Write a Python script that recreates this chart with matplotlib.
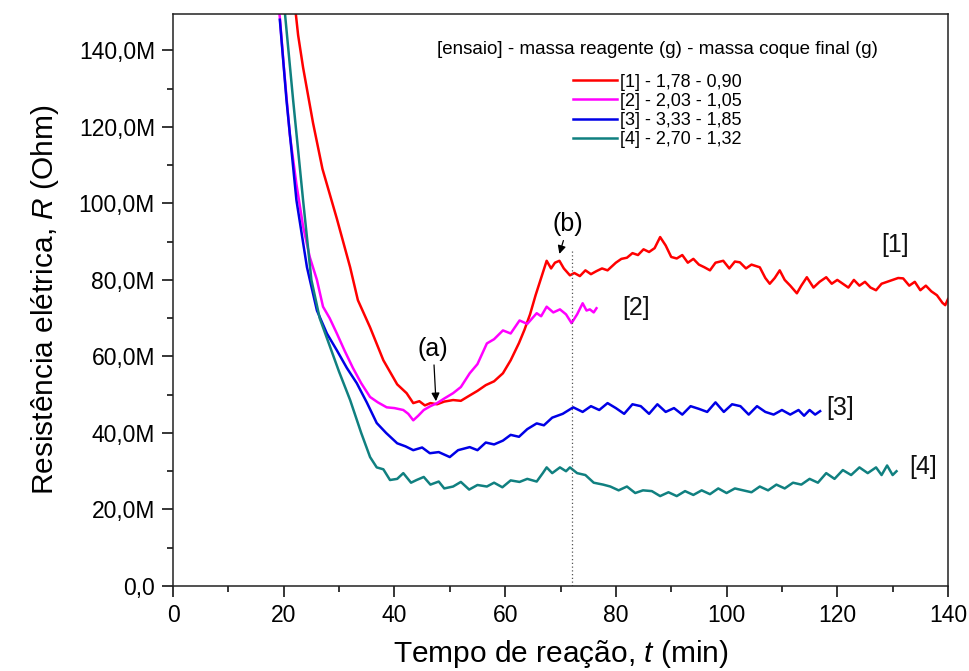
import matplotlib
matplotlib.use("Agg")
import matplotlib.pyplot as plt

# values, R in megaohm
t1 = [22, 22.6, 23.5, 25.3, 27, 29.6, 32, 33.4, 35.6, 38, 40.5, 42.2, 43.4, 44.5, 45.5, 46.5,
      47.7, 49, 50.6, 52, 53.6, 55, 56.5, 58, 59.6, 61, 62.5, 63.5, 64.5, 65.5, 66.5, 67.5,
      68.3, 69, 69.8, 70.6, 71.7, 72.5, 73.5, 74.5, 75.5, 76.5, 77.5, 78.5, 80, 81, 82, 83,
      84, 85, 86, 87, 88, 89, 90, 91, 92, 93, 94, 95, 96, 97, 98, 99.4, 100.5, 101.5, 102.4,
      103.5, 104.5, 106, 107, 107.8, 108.7, 109.6, 110.5, 111.5, 112.7, 113.5, 114.5, 115.7,
      116.8, 118, 119, 120, 121, 122, 123, 124, 125, 126, 127, 128, 129, 130, 131, 131.9,
      133, 134, 135, 136, 137, 138, 139, 139.5, 140]
r1 = [152, 144, 135.5, 121, 109, 96, 83.3, 74.7, 67.6, 59, 52.7, 50.4, 47.8, 48.3, 47.2, 47.8,
      47.5, 48.2, 48.6, 48.4, 49.8, 51, 52.5, 53.5, 55.6, 59, 63.5, 67, 71, 76, 80.5, 85,
      83, 84.5, 85, 83, 81.2, 81.8, 81, 82.5, 81.5, 82.3, 83, 82.5, 84.5, 85.5, 85.8, 87,
      86.5, 88, 87.3, 88.3, 91.2, 89, 86, 85.6, 86.5, 84.5, 85.5, 84, 83.3, 82.5, 84.5, 85,
      83, 84.8, 84.6, 83, 84, 83.3, 80.5, 79, 80.5, 82.5, 80, 78.5, 76.5, 78.5, 80.7, 78,
      79.5, 80.7, 79, 80, 79, 78, 80, 78.5, 79.5, 78, 77.3, 79, 79.5, 80, 80.5, 80.4,
      78.5, 79.5, 77.3, 78.5, 77, 76, 74, 73.4, 75]

t2 = [19, 19.3, 20, 21.1, 22.3, 23.5, 24.7, 26, 27.1, 28.3, 29.6, 31, 32.5, 34, 35.6, 37,
      38.6, 40, 41.6, 42.5, 43.4, 44.3, 45.3, 46.5, 47.7, 49, 50.6, 52, 53.6, 55, 56.7, 58,
      59.6, 61, 62.6, 64, 65.7, 66.5, 67.5, 68.7, 69.9, 71, 72, 73, 74, 74.7, 75.3, 76, 76.5]
r2 = [152, 148.6, 136, 118, 105, 94, 86, 80, 73, 70, 66, 61.5, 57, 53, 49.4, 48,
      46.7, 46.5, 46, 45, 43.3, 44.5, 46, 47, 47.8, 49, 50.4, 52, 55.6, 58, 63.4, 64.5,
      66.8, 66, 69.4, 68.5, 71.3, 70.5, 73, 71.5, 72.3, 71, 68.7, 71, 73.9, 72, 72.3, 71.5, 72.6]

t3 = [19.3, 20.5, 22.3, 24.2, 26, 27.8, 29.6, 31.4, 33.2, 35, 36.8, 38.5, 40.5, 42, 43.4, 45,
      46.4, 48, 50, 51.5, 53.6, 55, 56.5, 58, 59.6, 61, 62.5, 64, 65.7, 67, 68.5, 70.4, 72.3,
      74, 75.5, 77, 78.5, 80, 81.5, 83, 84.5, 86, 87.5, 89, 90.5, 92, 93.5, 95, 96.5, 98,
      99.5, 101, 102.5, 104, 105.5, 107, 108.5, 110, 111.5, 113, 114, 115, 116, 116.9]
r3 = [148, 127, 100.8, 83.3, 72, 66, 61.6, 57, 53, 48, 42.6, 40, 37.3, 36.5, 35.5, 36.2,
      34.7, 35, 33.7, 35.5, 36.3, 35.5, 37.5, 37, 38, 39.5, 39, 41, 42.5, 42, 44, 45, 46.7,
      45.5, 47, 46, 47.8, 46.5, 45, 47.5, 47, 45, 47.5, 45.5, 46.5, 44.8, 47, 46.3, 45.5, 48,
      45.5, 47.5, 47, 44.8, 47, 45.5, 44.8, 46, 44.8, 46, 44.5, 46, 44.8, 45.7]

t4 = [20.2, 21.7, 23.5, 25, 26.5, 28.4, 30, 32, 34, 35.6, 36.8, 38, 39.2, 40.5, 41.6, 43,
      44, 45.3, 46.5, 48, 49, 50.6, 52, 53.5, 55, 56.7, 58, 59.5, 61, 62.6, 64, 65.7, 66.8,
      67.5, 68.5, 69.9, 71, 71.7, 73, 74.5, 76, 77.7, 79, 80.5, 82, 83.5, 84.9, 86.5, 88,
      89.5, 91, 92.5, 94, 95.5, 97, 98.5, 100, 101.5, 103, 104.5, 106, 107.5, 109, 110.5,
      112, 113.5, 115, 116.5, 118, 119.5, 121, 122.5, 124, 125.5, 127, 128, 129, 130, 130.7]
r4 = [150, 127, 100.8, 80, 70, 62.4, 56, 48.6, 40, 33.7, 31, 30.5, 27.7, 28, 29.5, 27,
      27.7, 28.5, 26.5, 27.3, 25.5, 26, 27.2, 25.2, 26.4, 26, 27, 25.8, 27.6, 27.2, 28, 27.3,
      29.5, 31, 29.5, 31, 30, 31, 29.5, 29, 27, 26.5, 26, 25, 26, 24.3, 25, 24.8, 23.5,
      24.5, 23.5, 24.8, 23.8, 25, 24, 25.5, 24.3, 25.5, 25, 24.5, 26, 25, 26.5, 25.5,
      27, 26.5, 28, 27, 29.5, 28, 30.3, 29, 31, 29.5, 31, 29, 31.5, 29, 30]

legend_labels = ["[1] - 1,78 - 0,90", "[2] - 2,03 - 1,05", "[3] - 3,33 - 1,85", "[4] - 2,70 - 1,32"]
colors = ["#ff0000", "#ff00ff", "#0000e6", "#108080"]
end_labels = ["[1]", "[2]", "[3]", "[4]"]
end_label_pos = [(130.4, 89), (83.6, 72.6), (120.5, 46.5), (135.5, 31)]

y_ticks = [0, 20, 40, 60, 80, 100, 120, 140]
y_tick_labels = ["0,0", "20,0M", "40,0M", "60,0M", "80,0M", "100,0M", "120,0M", "140,0M"]
x_ticks = [0, 20, 40, 60, 80, 100, 120, 140]

T_B = 72      # dotted marker line (b)
B_TOP = 88

plt.rcParams['font.family'] = ['Liberation Sans', 'DejaVu Sans']
plt.rcParams['mathtext.fontset'] = 'custom'
plt.rcParams['mathtext.rm'] = 'Liberation Sans'
plt.rcParams['mathtext.it'] = 'Liberation Sans:italic'

fig = plt.figure(figsize=(9.69, 6.71), dpi=100)
ax = fig.add_axes([173 / 969, 1 - 586 / 671, 775 / 969, 572 / 671])

for t, r, c, lab in zip([t1, t2, t3, t4], [r1, r2, r3, r4], colors, legend_labels):
    ax.plot(t, r, color=c, lw=1.8, label=lab)

ax.vlines(T_B, 0, B_TOP, colors="#555555", linestyles=(0, (1, 2)), lw=0.9)

for lab, (x, y) in zip(end_labels, end_label_pos):
    ax.text(x, y, lab, fontsize=18, ha="center", va="center", color="#111111")

arrow = dict(arrowstyle="-|>", color="black", lw=0.9, mutation_scale=12, shrinkA=1, shrinkB=0)
ax.annotate("(a)", xy=(47.5, 48.3), xytext=(47, 62), fontsize=18, ha="center", va="center",
            arrowprops=arrow)
ax.annotate("(b)", xy=(69.8, 86.8), xytext=(71.4, 94.5), fontsize=18, ha="center", va="center",
            arrowprops=arrow)

ax.set_xlim(0, 140)
ax.set_ylim(0, 149.5)
ax.set_xticks(x_ticks)
ax.set_xticks(range(10, 140, 20), minor=True)
ax.set_yticks(y_ticks)
ax.set_yticklabels(y_tick_labels)
ax.set_yticks(range(10, 150, 20), minor=True)
ax.tick_params(which="major", direction="out", length=8, width=1.1, labelsize=16.5, pad=5)
ax.tick_params(which="minor", direction="out", length=4.5, width=1.1)
ax.tick_params(top=False, right=False)
for s in ax.spines.values():
    s.set_linewidth(1.1)
    s.set_color("#222222")

ax.set_xlabel("Tempo de reação, $t$ (min)", fontsize=21.5, labelpad=8)
ax.set_ylabel("Resistência elétrica, $R$ (Ohm)", fontsize=21.5, labelpad=13)

leg = ax.legend(loc="upper center", bbox_to_anchor=(0.625, 0.968), frameon=False, fontsize=13,
                title="[ensaio] - massa reagente (g) - massa coque final (g)", title_fontsize=13.5,
                handlelength=2.4, handletextpad=0.15, labelspacing=0.12, borderpad=0)
leg._legend_box.sep = 11

fig.savefig("out.png", dpi=100)
